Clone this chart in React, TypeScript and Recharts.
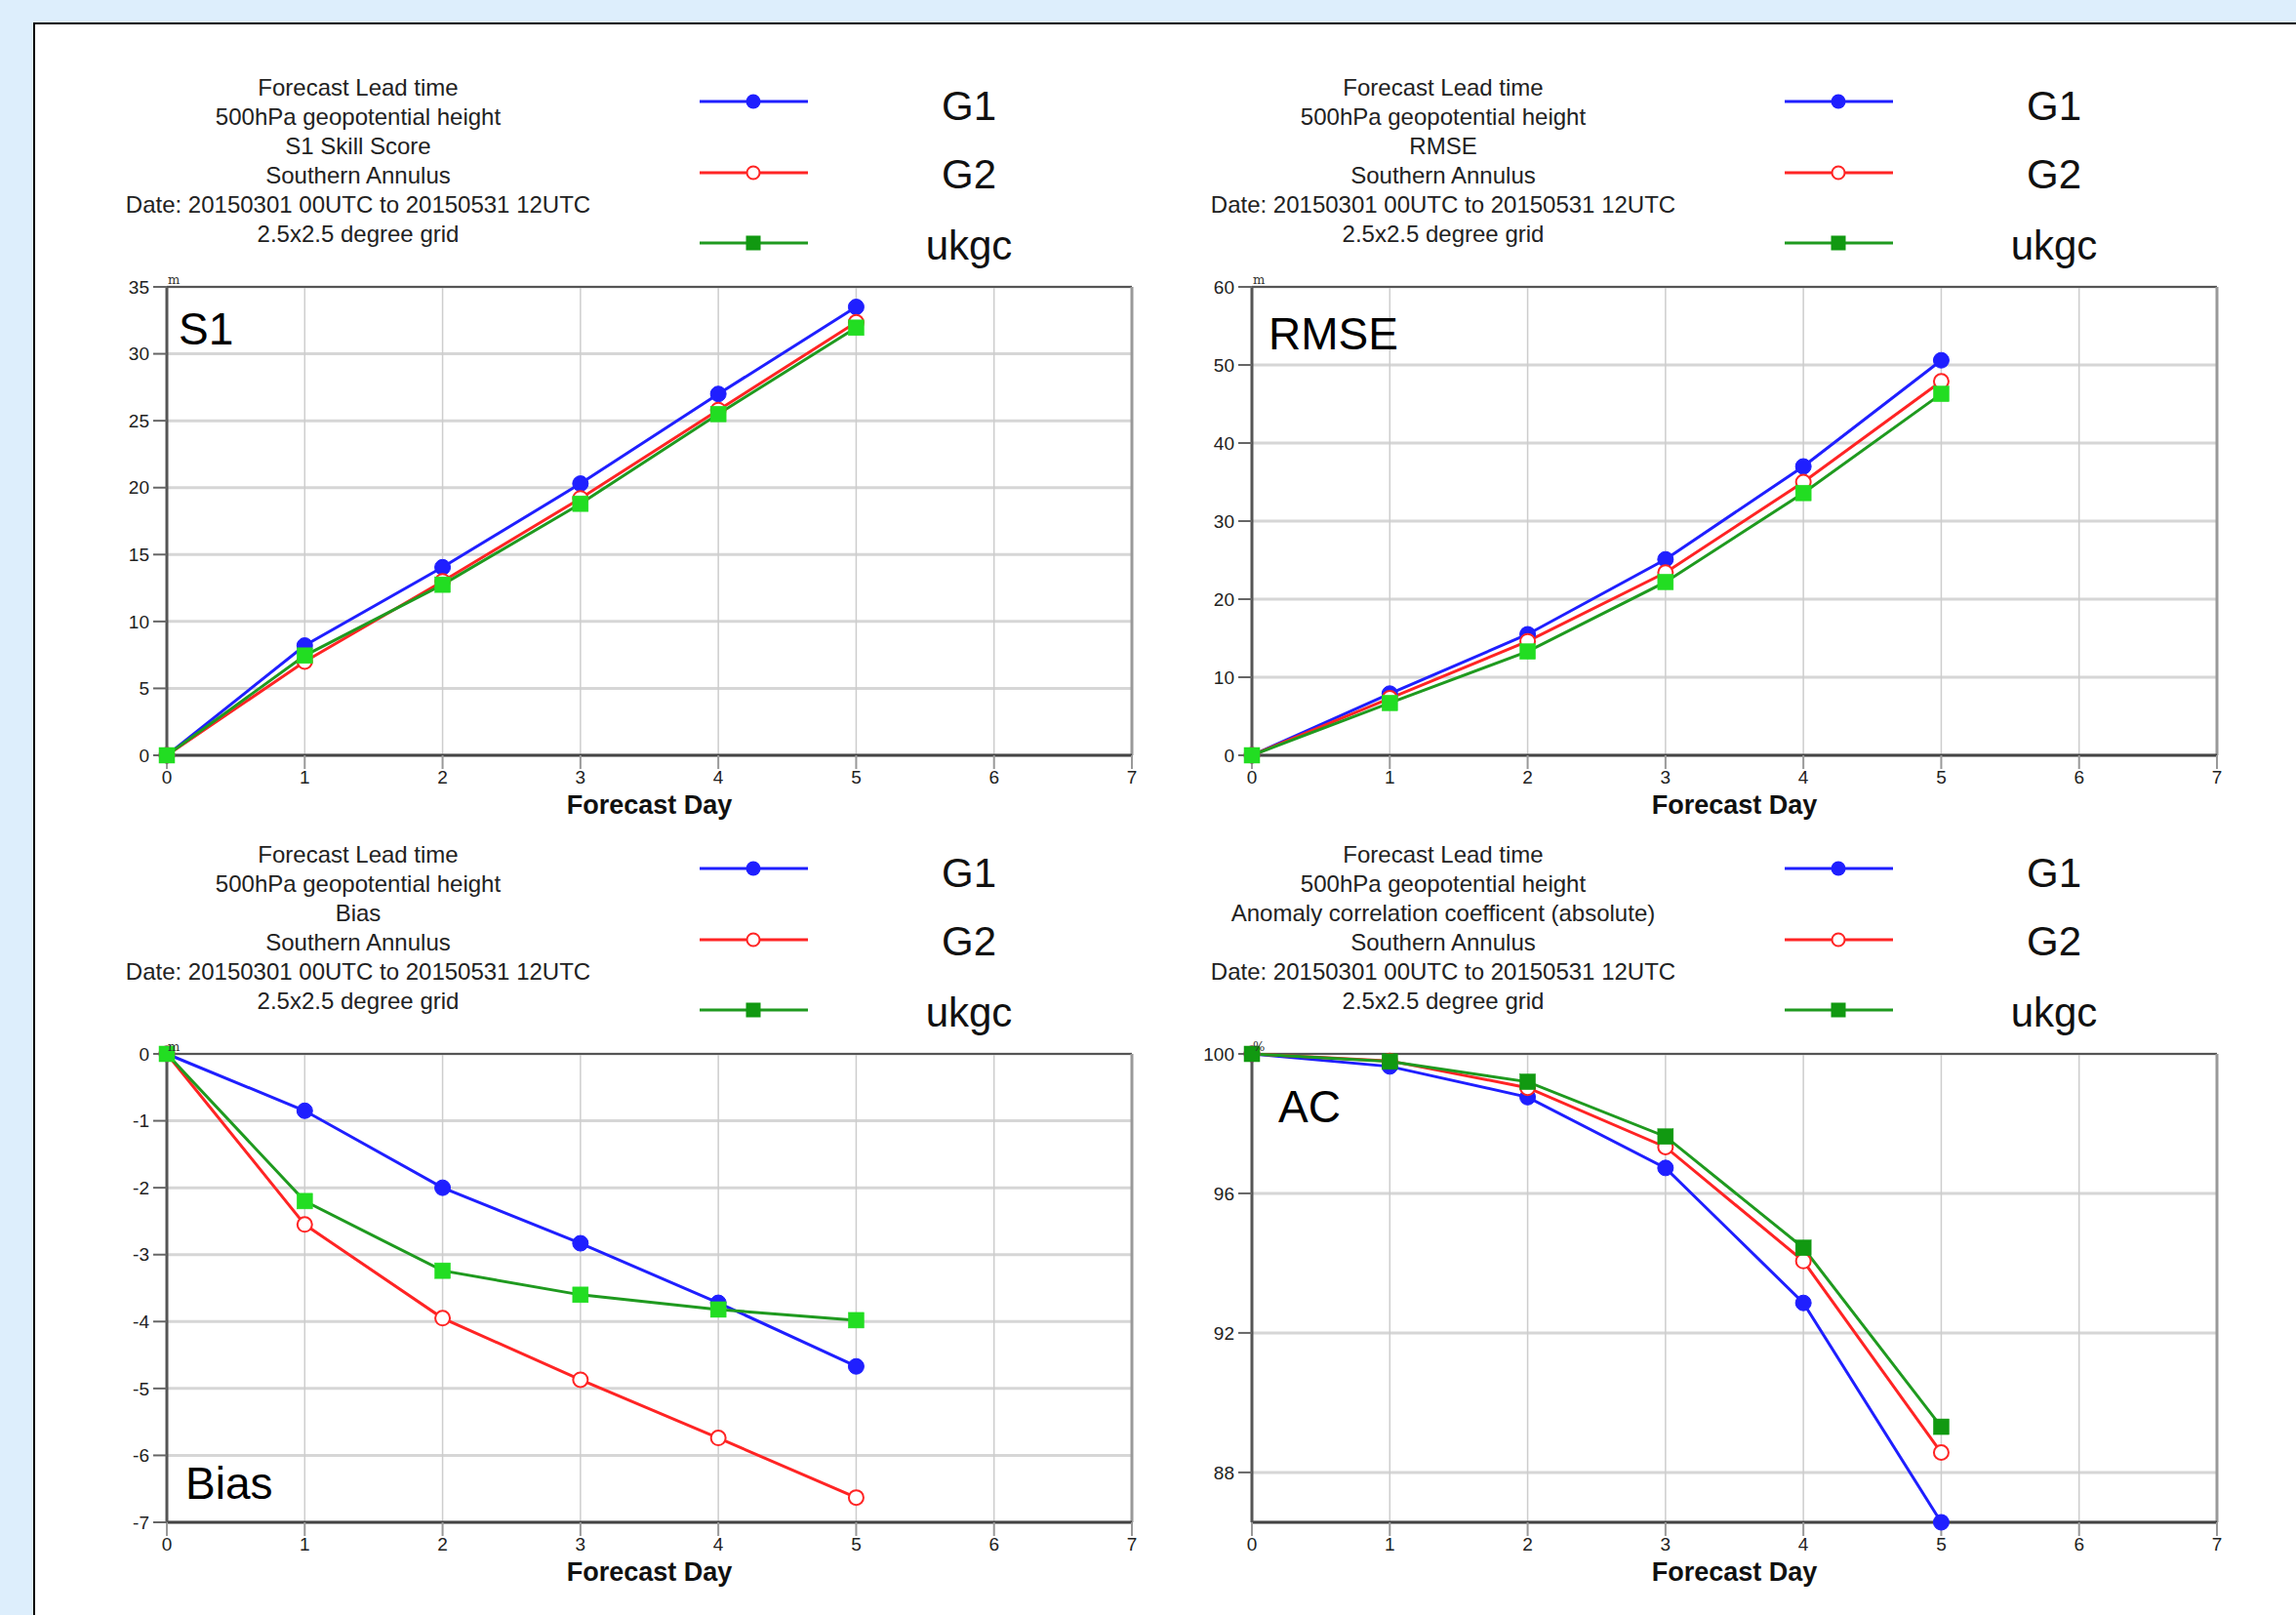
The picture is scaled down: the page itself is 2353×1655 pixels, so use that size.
import React from 'react';
import { LineChart, Line, XAxis, YAxis, CartesianGrid, ReferenceLine } from 'recharts';

// ---------- data ----------
const days = [0, 1, 2, 3, 4, 5];
const xTicks = [0, 1, 2, 3, 4, 5, 6, 7];
const seriesNames = ['G1', 'G2', 'ukgc'];

const s1G1 = [0, 8.2, 14.05, 20.3, 27.0, 33.5];
const s1G2 = [0, 7.0, 13.0, 19.2, 25.8, 32.35];
const s1Ukgc = [0, 7.45, 12.75, 18.8, 25.5, 31.95];
const s1Ticks = [0, 5, 10, 15, 20, 25, 30, 35];

const rmseG1 = [0, 7.9, 15.5, 25.1, 37.0, 50.6];
const rmseG2 = [0, 7.3, 14.6, 23.4, 35.0, 47.9];
const rmseUkgc = [0, 6.7, 13.3, 22.2, 33.6, 46.3];
const rmseTicks = [0, 10, 20, 30, 40, 50, 60];

const biasG1 = [0, -0.85, -2.0, -2.83, -3.72, -4.67];
const biasG2 = [0, -2.55, -3.95, -4.87, -5.74, -6.63];
const biasUkgc = [0, -2.2, -3.24, -3.6, -3.82, -3.98];
const biasTicks = [-7, -6, -5, -4, -3, -2, -1, 0];

const acG1 = [100, 99.64, 98.76, 96.73, 92.86, 86.57];
const acG2 = [100, 99.8, 99.03, 97.33, 94.06, 88.57];
const acUkgc = [100, 99.78, 99.2, 97.63, 94.44, 89.31];
const acTicks = [88, 92, 96, 100];

const infoCommonTop = ['Forecast Lead time', '500hPa geopotential height'];
const infoCommonBottom = ['Southern Annulus', 'Date: 20150301 00UTC to 20150531 12UTC', '2.5x2.5 degree grid'];
const infoS1 = [...infoCommonTop, 'S1 Skill Score', ...infoCommonBottom];
const infoRmse = [...infoCommonTop, 'RMSE', ...infoCommonBottom];
const infoBias = [...infoCommonTop, 'Bias', ...infoCommonBottom];
const infoAc = [...infoCommonTop, 'Anomaly correlation coefficent (absolute)', ...infoCommonBottom];

const buildRows = (a: number[], b: number[], c: number[]) =>
  days.map((d, i) => ({ day: d, [seriesNames[0]]: a[i], [seriesNames[1]]: b[i], [seriesNames[2]]: c[i] }));

// ---------- styles ----------
const FONT = '"Liberation Sans", Arial, Helvetica, sans-serif';
const BLUE = '#1f1fff';
const RED = '#ff2424';
const GREEN_LINE = '#1f9a1f';
const GREEN_DARK = '#119911';
const GREEN_BRIGHT = '#22dd22';

const YW = 90;
const MT = 20;
const MR = 20;
const XH = 70;
const PW = 989;
const PH = 480;

const LEFT_X = 171;
const RIGHT_X = 1283;
const TOP_Y = 294;
const BOTTOM_Y = 1080;

type PanelProps = {
  px: number;
  py: number;
  rows: any[];
  domain: [number, number];
  ticks: number[];
  squareFill: string;
};

const SquareDot = (fill: string) => (props: any) => {
  const { cx, cy, index } = props;
  if (cx == null || cy == null) return <g key={`sq-${index}`} />;
  return <rect key={`sq-${index}`} x={cx - 8} y={cy - 8} width={16} height={16} fill={fill} stroke={fill} strokeWidth={0.5} />;
};

const Panel = ({ px, py, rows, domain, ticks, squareFill }: PanelProps) => (
  <div style={{ position: 'absolute', left: px - YW, top: py - MT }}>
    <LineChart
      width={YW + PW + MR}
      height={MT + PH + XH}
      data={rows}
      margin={{ top: MT, right: MR, left: 0, bottom: 0 }}
      style={{ fontFamily: FONT }}
    >
      <CartesianGrid horizontal vertical={false} stroke="#d6d6d6" strokeWidth={3} />
      <CartesianGrid horizontal={false} vertical stroke="#cdcdcd" strokeWidth={1.5} />
      <XAxis
        dataKey="day"
        type="number"
        domain={[0, 7]}
        ticks={xTicks}
        interval={0}
        height={XH}
        tickSize={14}
        tickMargin={2}
        axisLine={{ stroke: '#444', strokeWidth: 3 }}
        tickLine={{ stroke: '#999', strokeWidth: 2 }}
        tick={{ fill: '#222', fontSize: 19, fontFamily: FONT }}
        label={{
          value: 'Forecast Day',
          position: 'insideBottom',
          offset: 10,
          fontSize: 27,
          fontWeight: 'bold',
          fill: '#111',
          fontFamily: FONT,
        }}
      />
      <YAxis
        type="number"
        domain={domain}
        ticks={ticks}
        interval={0}
        width={YW}
        tickSize={14}
        tickMargin={4}
        axisLine={{ stroke: '#555', strokeWidth: 3 }}
        tickLine={{ stroke: '#666', strokeWidth: 2 }}
        tick={{ fill: '#222', fontSize: 19, fontFamily: FONT }}
      />
      <ReferenceLine y={domain[1]} stroke="#555" strokeWidth={2} />
      <ReferenceLine x={7} stroke="#999" strokeWidth={3} />
      <Line
        dataKey="G1"
        type="linear"
        stroke={BLUE}
        strokeWidth={3}
        isAnimationActive={false}
        dot={{ r: 8, fill: BLUE, stroke: BLUE, strokeWidth: 1 }}
      />
      <Line
        dataKey="G2"
        type="linear"
        stroke={RED}
        strokeWidth={3}
        isAnimationActive={false}
        dot={{ r: 7.5, fill: '#ffffff', stroke: RED, strokeWidth: 2 }}
      />
      <Line
        dataKey="ukgc"
        type="linear"
        stroke={GREEN_LINE}
        strokeWidth={3}
        isAnimationActive={false}
        dot={SquareDot(squareFill)}
      />
    </LineChart>
  </div>
);

type OverlayProps = {
  px: number;
  py: number;
  info: string[];
  title: string;
  titleDx: number;
  titleDy: number;
  unit: string;
};

const PanelText = ({ px, py, info, title, titleDx, titleDy, unit }: OverlayProps) => {
  const lx1 = px + 546;
  const lx2 = px + 657;
  const mx = px + 601;
  const labelX = px + 822;
  const ly = [py - 190, py - 117, py - 45];
  const lb = [py - 171, py - 101, py - 28];
  return (
    <g>
      {info.map((t, i) => (
        <text key={i} x={px + 196} y={py - 196.5 + i * 30} textAnchor="middle" fontSize={24} fill="#222" fontFamily={FONT}>
          {t}
        </text>
      ))}
      <line x1={lx1} x2={lx2} y1={ly[0]} y2={ly[0]} stroke={BLUE} strokeWidth={3} />
      <circle cx={mx} cy={ly[0]} r={7.5} fill={BLUE} />
      <line x1={lx1} x2={lx2} y1={ly[1]} y2={ly[1]} stroke={RED} strokeWidth={3} />
      <circle cx={mx} cy={ly[1]} r={6.5} fill="#fff" stroke={RED} strokeWidth={2} />
      <line x1={lx1} x2={lx2} y1={ly[2]} y2={ly[2]} stroke={GREEN_LINE} strokeWidth={3} />
      <rect x={mx - 7.5} y={ly[2] - 7.5} width={15} height={15} fill={GREEN_DARK} />
      {seriesNames.map((n, i) => (
        <text key={n} x={labelX} y={lb[i]} textAnchor="middle" fontSize={42} fill="#111" fontFamily={FONT}>
          {n}
        </text>
      ))}
      <text x={px + titleDx} y={py + titleDy} fontSize={46} fill="#000" fontFamily={FONT}>
        {title}
      </text>
      <text x={px + 1} y={py - 3} fontSize={13} fill="#333" fontFamily='"DejaVu Serif", serif'>
        {unit}
      </text>
    </g>
  );
};

export default function App() {
  const s1Rows = buildRows(s1G1, s1G2, s1Ukgc);
  const rmseRows = buildRows(rmseG1, rmseG2, rmseUkgc);
  const biasRows = buildRows(biasG1, biasG2, biasUkgc);
  const acRows = buildRows(acG1, acG2, acUkgc);
  const acMin = Math.min(...acG1, ...acG2, ...acUkgc);

  return (
    <div
      style={{
        position: 'absolute',
        left: 0,
        top: 0,
        width: 2353,
        height: 1655,
        background: '#ddeefc',
        overflow: 'hidden',
        fontFamily: FONT,
      }}
    >
      <div
        style={{
          position: 'absolute',
          left: 34,
          top: 23,
          width: 2400,
          height: 1700,
          background: '#ffffff',
          borderLeft: '2px solid #000',
          borderTop: '2px solid #000',
        }}
      />
      <Panel px={LEFT_X} py={TOP_Y} rows={s1Rows} domain={[0, 35]} ticks={s1Ticks} squareFill={GREEN_BRIGHT} />
      <Panel px={RIGHT_X} py={TOP_Y} rows={rmseRows} domain={[0, 60]} ticks={rmseTicks} squareFill={GREEN_BRIGHT} />
      <Panel px={LEFT_X} py={BOTTOM_Y} rows={biasRows} domain={[-7, 0]} ticks={biasTicks} squareFill={GREEN_BRIGHT} />
      <Panel px={RIGHT_X} py={BOTTOM_Y} rows={acRows} domain={[acMin, 100]} ticks={acTicks} squareFill={GREEN_DARK} />
      <svg
        width={2353}
        height={1655}
        style={{ position: 'absolute', left: 0, top: 0, pointerEvents: 'none' }}
      >
        <PanelText px={LEFT_X} py={TOP_Y} info={infoS1} title="S1" titleDx={12} titleDy={59} unit="m" />
        <PanelText px={RIGHT_X} py={TOP_Y} info={infoRmse} title="RMSE" titleDx={17} titleDy={64} unit="m" />
        <PanelText px={LEFT_X} py={BOTTOM_Y} info={infoBias} title="Bias" titleDx={19} titleDy={456} unit="m" />
        <PanelText px={RIGHT_X} py={BOTTOM_Y} info={infoAc} title="AC" titleDx={27} titleDy={70} unit="%" />
      </svg>
    </div>
  );
}
